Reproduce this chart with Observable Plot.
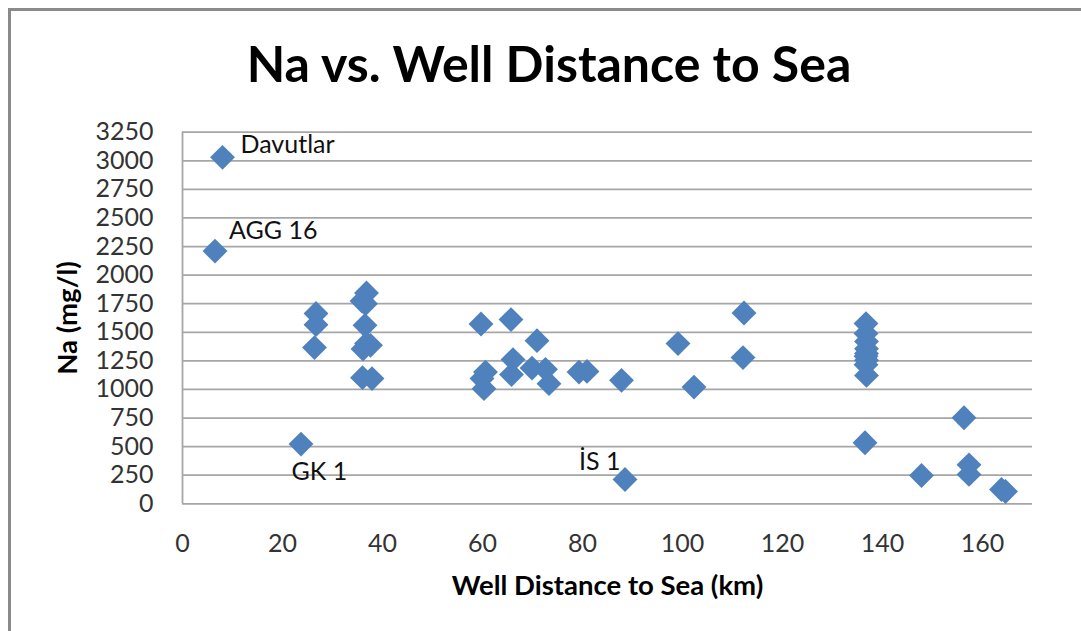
<!DOCTYPE html>
<html>
<head>
<meta charset="utf-8">
<script src="https://cdn.jsdelivr.net/npm/d3@7"></script>
<script src="https://cdn.jsdelivr.net/npm/@observablehq/plot@0.6"></script>
<style>
  html, body { margin: 0; padding: 0; background: #fff; }
  #chart { position: relative; width: 1081px; height: 631px; overflow: hidden; font-family: Lato, "Open Sans", sans-serif; }
  #frame { position: absolute; left: 8px; top: 8px; width: 1200px; height: 800px; box-sizing: border-box;
           border-top: 3px solid #8a8a8a; border-left: 3px solid #8a8a8a; pointer-events: none; }
  #title { position: relative; height: 112px; box-sizing: border-box; padding-top: 33px; padding-left: 17px;
           text-align: center; font-size: 50px; line-height: 1.2; font-weight: bold; color: #000; white-space: nowrap; }
  #chart svg { display: block; position: relative; }
</style>
</head>
<body>
<div id="chart">
  <div id="frame"></div>
  <div id="title">Na vs. Well Distance to Sea</div>
</div>
<script>
// Well distance to the sea (km) and sodium concentration (mg/l) for each well
const distance = [
  8.0, 6.5, 23.7,
  26.7, 26.7, 26.4,
  36.8, 35.9, 36.6, 36.5, 36.8, 37.6, 36.1, 36.0, 37.9,
  59.7, 60.6, 59.9, 60.3,
  65.7, 66.1, 65.8,
  70.9, 69.9, 72.6, 73.3,
  79.3, 80.9,
  87.8, 88.5,
  99.1, 102.3,
  112.3, 112.1,
  136.7, 136.7, 136.8, 136.8, 136.8, 136.7, 136.8, 136.7, 136.8,
  136.5, 147.8, 156.3, 157.3, 157.3, 163.8, 164.6
];
const sodium = [
  3030, 2210, 522,
  1664, 1567, 1366,
  1844, 1774, 1750, 1561, 1401, 1386, 1354, 1103, 1095,
  1573, 1152, 1095, 1007,
  1611, 1261, 1130,
  1427, 1187, 1176, 1051,
  1152, 1158,
  1080, 213,
  1401, 1021,
  1669, 1279,
  1576, 1489, 1420, 1357, 1314, 1290, 1255, 1217, 1123,
  534, 248, 753, 341, 257, 125, 108
];

// Named wells and the index of their reading
const wellNames = ["Davutlar", "AGG 16", "GK 1", "İS 1"];
const wellIndex = [0, 1, 2, 29];

const xTicks = [0, 20, 40, 60, 80, 100, 120, 140, 160];
const yTicks = [0, 250, 500, 750, 1000, 1250, 1500, 1750, 2000, 2250, 2500, 2750, 3000, 3250];

const xTitle = "Well Distance to Sea (km)";
const yTitle = "Na (mg/l)";

const points = distance.map((d, i) => ({distance: d, na: sodium[i]}));

// Where each well name sits relative to its marker
const nameOffset = {
  "Davutlar": [18, -12.6],
  "AGG 16": [14, -20],
  "GK 1": [-9.6, 28.3],
  "İS 1": [-46, -17]
};

const nameMarks = wellNames.map((name, k) => {
  const p = points[wellIndex[k]];
  const [dx, dy] = nameOffset[name];
  return Plot.text([{...p, name}], {
    x: "distance", y: "na", text: "name",
    textAnchor: "start", lineAnchor: "middle", dx, dy, fontSize: 25, fill: "#111"
  });
});

const font = "Lato, 'Open Sans', sans-serif";
const grey = "#a6a6a6";
const plain = d => String(d);

const chart = Plot.plot({
  width: 1081,
  height: 519,
  marginTop: 19.7,
  marginBottom: 127.7,
  marginLeft: 182,
  marginRight: 49,
  style: {fontFamily: font, background: "transparent", overflow: "visible"},
  x: {domain: [0, 170], label: null},
  y: {domain: [0, 3250], label: null},
  marks: [
    Plot.gridY(yTicks, {stroke: grey, strokeOpacity: 1, strokeWidth: 1.8}),
    Plot.ruleX([0], {stroke: grey, strokeWidth: 1.8}),
    Plot.axisX(xTicks, {tickSize: 0, tickPadding: 30, fontSize: 25, fill: "#333", tickFormat: plain, label: null}),
    Plot.axisY(yTicks, {tickSize: 0, tickPadding: 29, fontSize: 25, fill: "#333", tickFormat: plain, label: null}),
    Plot.dot(points, {x: "distance", y: "na", symbol: "diamond2", r: 11.2, fill: "#4F81BD", stroke: "none"}),
    ...nameMarks,
    Plot.text([xTitle], {frameAnchor: "bottom", textAnchor: "middle", lineAnchor: "middle", dy: 82.5,
      fontSize: 27.5, fontWeight: "bold", fill: "#000"}),
    Plot.text([yTitle], {frameAnchor: "left", textAnchor: "middle", lineAnchor: "middle", dx: -114, rotate: -90,
      fontSize: 27.5, fontWeight: "bold", fill: "#000"})
  ]
});

document.getElementById("chart").appendChild(chart);
</script>
</body>
</html>
